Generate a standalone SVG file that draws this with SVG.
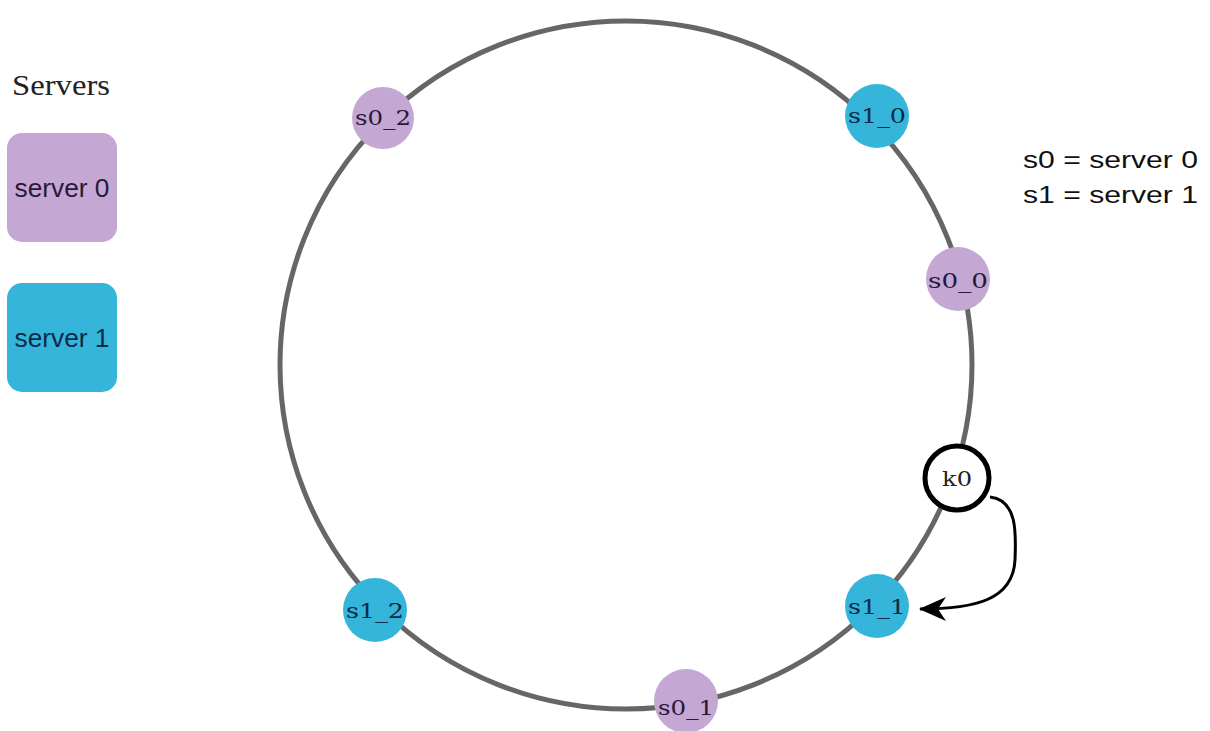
<svg xmlns="http://www.w3.org/2000/svg" width="1210" height="731" viewBox="0 0 1210 731">
<style>
.ring{fill:none;stroke:#666;stroke-width:5}
.s0{fill:#C4A8D3}
.s1{fill:#36B5DB}
.lbl{font-family:"DejaVu Serif","Liberation Serif",serif;font-size:21px;text-anchor:middle}
.l0{fill:#2a1838}
.l1{fill:#0b2b48}
.sans{font-family:"Liberation Sans",Arial,sans-serif}
.key{fill:#fff;stroke:#000;stroke-width:5}
.conn{fill:none;stroke:#000;stroke-width:3}
</style>
<defs>
<marker id="ah" markerUnits="userSpaceOnUse" markerWidth="28" markerHeight="28" viewBox="0 0 28 28" refX="26" refY="14" orient="auto">
<path d="M0,2 L27,14 L0,26 L8,14 Z" fill="#000"/>
</marker>
</defs>
<rect width="1210" height="731" fill="#fff"/>
<g id="ring">
<ellipse class="ring" cx="626" cy="365" rx="346" ry="344"/>
</g>
<g id="legend">
<text x="12" y="95" font-family="Liberation Serif, serif" font-size="29" fill="#222" textLength="98" lengthAdjust="spacingAndGlyphs">Servers</text>
<g id="legend-server0">
<rect class="s0" x="7" y="133" width="110" height="109" rx="15"/>
<text class="sans l0" x="62" y="197" font-size="25" text-anchor="middle" textLength="95" lengthAdjust="spacingAndGlyphs">server 0</text>
</g>
<g id="legend-server1">
<rect class="s1" x="7" y="283" width="110" height="109" rx="15"/>
<text class="sans l1" x="62" y="347" font-size="25" text-anchor="middle" textLength="95" lengthAdjust="spacingAndGlyphs">server 1</text>
</g>
</g>
<g id="key-text">
<text class="sans" x="1023" y="168" font-size="24" fill="#111" textLength="175" lengthAdjust="spacingAndGlyphs">s0 = server 0</text>
<text class="sans" x="1023" y="203" font-size="24" fill="#111" textLength="175" lengthAdjust="spacingAndGlyphs">s1 = server 1</text>
</g>
<g id="connectors">
<path class="conn" d="M990,497 C1018,500 1016,535 1015,560 C1013,600 975,609 920,609" marker-end="url(#ah)"/>
</g>
<g id="s0_2"><circle class="s0" cx="383" cy="118" r="31"/><text class="lbl l0" x="383" y="125" textLength="56" lengthAdjust="spacingAndGlyphs">s0_2</text></g>
<g id="s1_0"><circle class="s1" cx="877" cy="116" r="32"/><text class="lbl l1" x="877" y="123" textLength="58" lengthAdjust="spacingAndGlyphs">s1_0</text></g>
<g id="s0_0"><circle class="s0" cx="958" cy="279" r="32"/><text class="lbl l0" x="958" y="288" textLength="60" lengthAdjust="spacingAndGlyphs">s0_0</text></g>
<g id="k0"><circle class="key" cx="957" cy="478" r="32"/><text class="lbl" x="957" y="486" fill="#222" textLength="30" lengthAdjust="spacingAndGlyphs">k0</text></g>
<g id="s1_1"><circle class="s1" cx="877" cy="606" r="32"/><text class="lbl l1" x="877" y="614" textLength="58" lengthAdjust="spacingAndGlyphs">s1_1</text></g>
<g id="s0_1"><circle class="s0" cx="686" cy="701" r="32"/><text class="lbl l0" x="686" y="715" textLength="56" lengthAdjust="spacingAndGlyphs">s0_1</text></g>
<g id="s1_2"><circle class="s1" cx="375" cy="610" r="32"/><text class="lbl l1" x="375" y="618" textLength="58" lengthAdjust="spacingAndGlyphs">s1_2</text></g>
</svg>
